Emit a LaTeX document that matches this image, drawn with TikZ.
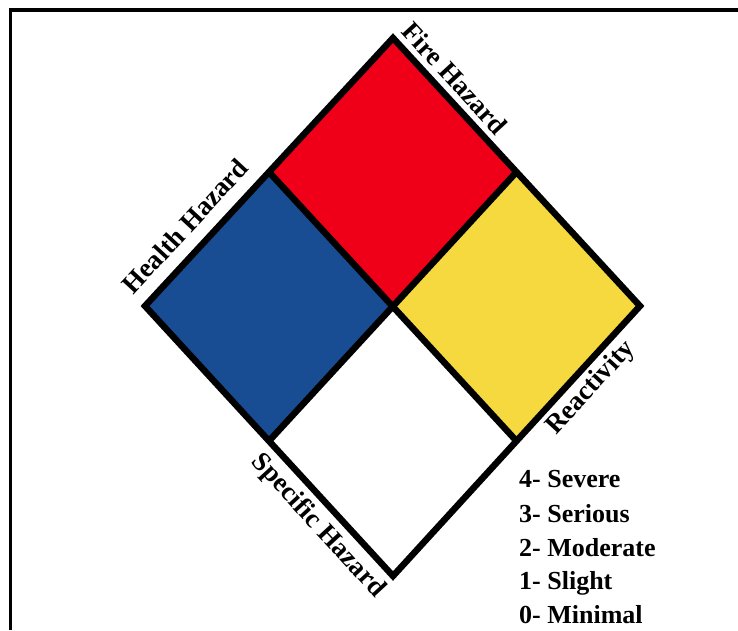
\documentclass[tikz,border=0pt]{standalone}
\usepackage{fontspec}
\setmainfont{Liberation Serif}
\usetikzlibrary{calc}
\definecolor{hzred}{RGB}{239,0,24}
\definecolor{hzblue}{RGB}{24,77,147}
\definecolor{hzyellow}{RGB}{245,217,62}
\begin{document}
\begin{tikzpicture}[x=1pt,y=-1pt, line join=miter,
  edgeline/.style={line width=6.5pt},
  lbl/.style={font=\fontsize{27}{32}\selectfont\bfseries, inner sep=0pt},
  leg/.style={font=\fontsize{26}{34}\selectfont\bfseries, inner sep=0pt, anchor=base west}]
\useasboundingbox (0,0) rectangle (738,630);
% frame
\coordinate (f1) at (10.5,630);
\coordinate (f2) at (10.5,10);
\coordinate (f3) at (738,10);
\draw[line width=3.8pt] (f1) -- (f2) -- (f3);
% diamond
\coordinate (T) at (393,38);
\coordinate (L) at (145,306);
\coordinate (R) at (640,306);
\coordinate (B) at (393,576);
\coordinate (C) at (393,306);
\coordinate (TL) at ($(T)!0.5!(L)$);
\coordinate (TR) at ($(T)!0.5!(R)$);
\coordinate (BL) at ($(B)!0.5!(L)$);
\coordinate (BR) at ($(B)!0.5!(R)$);
\fill[hzred] (T) -- (TR) -- (C) -- (TL) -- cycle;
\fill[hzblue] (TL) -- (C) -- (BL) -- (L) -- cycle;
\fill[hzyellow] (TR) -- (R) -- (BR) -- (C) -- cycle;
\fill[white] (C) -- (BR) -- (B) -- (BL) -- cycle;
\draw[edgeline] (TL) -- (BR);
\draw[edgeline] (TR) -- (BL);
\draw[edgeline] (T) -- (R) -- (B) -- (L) -- cycle;
% labels
\node[lbl, rotate=47.2] (health) at (185,226) {Health Hazard};
\node[lbl, rotate=-47.3] (fire) at (455,78) {Fire Hazard};
\node[lbl, rotate=47.5] (react) at (591,388) {Reactivity};
\node[lbl, rotate=-47.4] (spec) at (318,526) {Specific Hazard};
% legend
\node[leg] (l4) at (519,487) {4- Severe};
\node[leg] (l3) at (519,522) {3- Serious};
\node[leg] (l2) at (519,556) {2- Moderate};
\node[leg] (l1) at (519,589) {1- Slight};
\node[leg] (l0) at (519,623) {0- Minimal};
\end{tikzpicture}
\end{document}
